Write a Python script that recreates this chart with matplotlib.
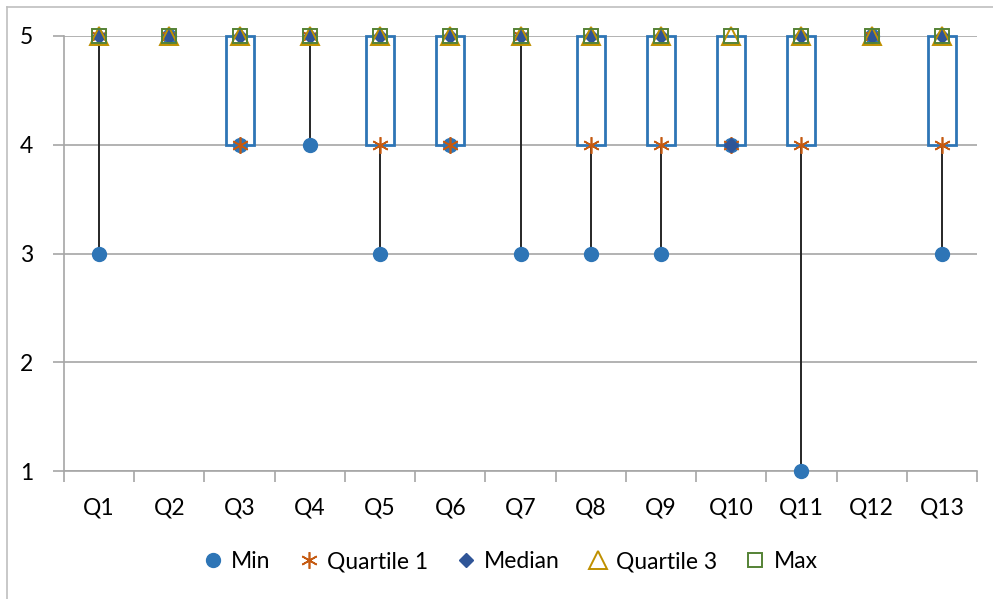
import numpy as np
import matplotlib.pyplot as plt
from matplotlib.lines import Line2D

# Five-number summary per question
questions = ['Q1', 'Q2', 'Q3', 'Q4', 'Q5', 'Q6', 'Q7', 'Q8', 'Q9', 'Q10', 'Q11', 'Q12', 'Q13']
mins = [3, 5, 4, 4, 3, 4, 3, 3, 3, 4, 1, 5, 3]
quart1 = [5, 5, 4, 5, 4, 4, 5, 4, 4, 4, 4, 5, 4]
medians = [5, 5, 5, 5, 5, 5, 5, 5, 5, 4, 5, 5, 5]
quart3 = [5, 5, 5, 5, 5, 5, 5, 5, 5, 5, 5, 5, 5]
maxs = [5, 5, 5, 5, 5, 5, 5, 5, 5, 5, 5, 5, 5]
yticks = [1, 2, 3, 4, 5]

plt.rcParams['font.family'] = ['Lato', 'DejaVu Sans']

W, H = 993, 599
fig = plt.figure(figsize=(W / 100, H / 100), dpi=100)
ax = fig.add_axes([64 / W, (H - 471) / H, (977 - 64) / W, (471 - 36) / H])

grid_c = '#A6A6A6'
fs = 16.5
x = np.arange(len(questions))

# high-low lines
ax.vlines(x, mins, maxs, color='#262626', lw=1.4, zorder=2, clip_on=False)

# quartile boxes (Q1 to Q3)
bw = 0.4
for xi, lo, hi in zip(x, quart1, quart3):
    if hi != lo:
        ax.add_patch(plt.Rectangle((xi - bw / 2, lo), bw, hi - lo, facecolor='white',
                                   edgecolor='#2E75B6', lw=2, zorder=3, clip_on=False))

# series markers
ax.plot(x, mins, 'o', ms=10, color='#2E75B6', ls='none', zorder=4, clip_on=False)
ax.plot(x, quart1, marker=(6, 2, 0), ms=12, color='#C55A11', mew=1.2, ls='none', zorder=5, clip_on=False)
ax.plot(x, medians, marker='D', ms=7.5, color='#2F5597', ls='none', zorder=6, clip_on=False)
ax.plot(x, quart3, '^', ms=13, mfc='none', mec='#BF9000', mew=1.4, ls='none', zorder=7, clip_on=False)
ax.plot(x, maxs, 's', ms=10, mfc='none', mec='#548235', mew=1.4, ls='none', zorder=8, clip_on=False)

ax.set_xlim(-0.5, len(questions) - 0.5)
ax.set_ylim(1, 5)
ax.set_yticks(yticks)
ax.yaxis.grid(True, color=grid_c, lw=1.2)
ax.set_axisbelow(True)
ax.set_xticks(x)
ax.set_xticklabels(questions)
ax.set_xticks(np.arange(-0.5, len(questions)), minor=True)
ax.tick_params(axis='x', which='major', length=0, pad=19, labelsize=fs)
ax.tick_params(axis='x', which='minor', length=8, color=grid_c, width=1.2)
ax.tick_params(axis='y', length=8, color=grid_c, width=1.2, pad=14, labelsize=fs)
for s in ['top', 'right']:
    ax.spines[s].set_visible(False)
for s in ['left', 'bottom']:
    ax.spines[s].set_color(grid_c)
    ax.spines[s].set_linewidth(1.2)

handles = [
    Line2D([], [], marker='o', ms=10, color='#2E75B6', ls='none'),
    Line2D([], [], marker=(6, 2, 0), ms=12, color='#C55A11', mew=1.2, ls='none'),
    Line2D([], [], marker='D', ms=7, color='#2F5597', ls='none'),
    Line2D([], [], marker='^', ms=13, mfc='none', mec='#BF9000', mew=1.4, ls='none'),
    Line2D([], [], marker='s', ms=10, mfc='none', mec='#548235', mew=1.4, ls='none'),
]
fig.legend(handles, ['Min', 'Quartile 1', 'Median', 'Quartile 3', 'Max'], loc='center',
           bbox_to_anchor=(0.513, (H - 562) / H), ncol=5, frameon=False, fontsize=fs,
           handletextpad=0.3, columnspacing=1.15, handlelength=1.0)

# chart frame (only top and left edges are visible in the reference)
fig.add_artist(Line2D([7 / W, 1], [(H - 7) / H] * 2, color='#BFBFBF', lw=1.2))
fig.add_artist(Line2D([7 / W] * 2, [0, (H - 7) / H], color='#BFBFBF', lw=1.2))

fig.savefig('out.png', dpi=100)
